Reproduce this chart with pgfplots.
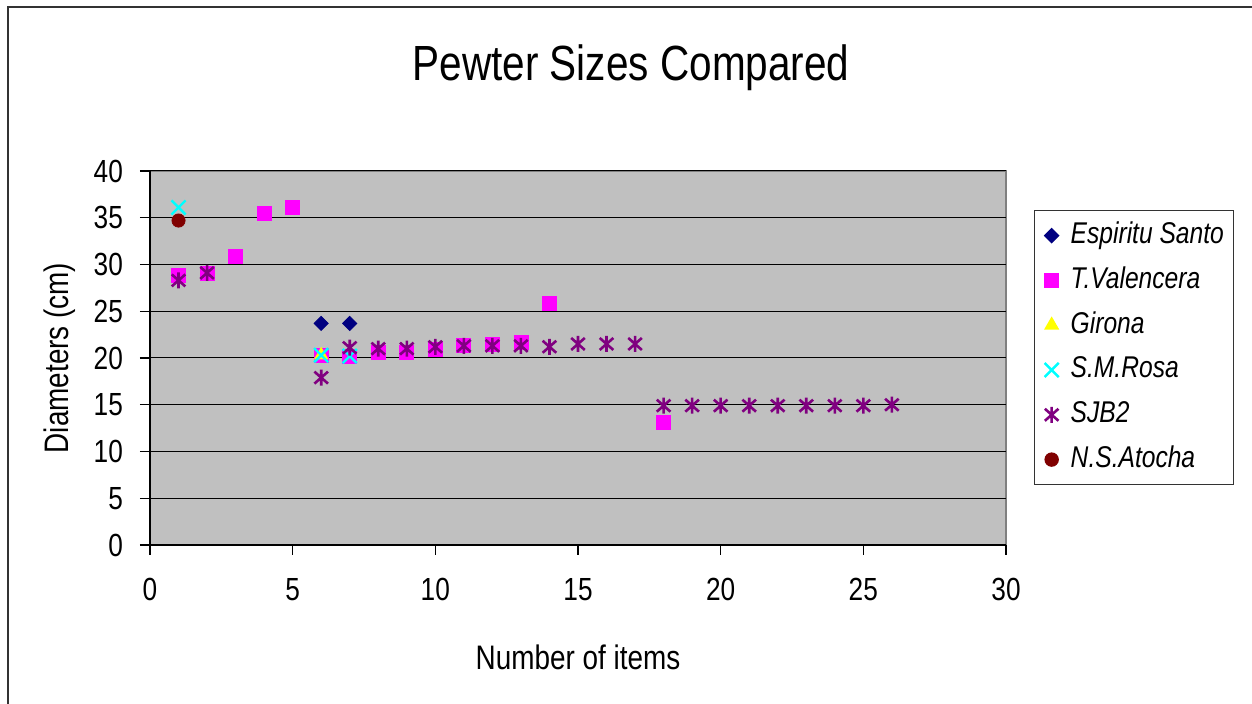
\documentclass[border=0pt]{standalone}
\usepackage{fontspec}
\setmainfont{Liberation Sans}[FakeStretch=0.82]
\usepackage{pgfplots}
\pgfplotsset{compat=1.18}
\definecolor{plotgray}{HTML}{C0C0C0}
\definecolor{framegray}{HTML}{808080}
\definecolor{esnavy}{HTML}{000080}
\definecolor{tvmag}{HTML}{FF00FF}
\definecolor{gyellow}{HTML}{FFFF00}
\definecolor{smcyan}{HTML}{00FFFF}
\definecolor{sjpurple}{HTML}{800080}
\definecolor{nsred}{HTML}{800000}
% Excel style star: one upright bar and two diagonals
\pgfdeclareplotmark{xlstar}{%
  \pgfpathmoveto{\pgfqpoint{0pt}{\pgfplotmarksize}}%
  \pgfpathlineto{\pgfqpoint{0pt}{-\pgfplotmarksize}}%
  \pgfpathmoveto{\pgfqpoint{-0.85\pgfplotmarksize}{0.75\pgfplotmarksize}}%
  \pgfpathlineto{\pgfqpoint{0.85\pgfplotmarksize}{-0.75\pgfplotmarksize}}%
  \pgfpathmoveto{\pgfqpoint{-0.85\pgfplotmarksize}{-0.75\pgfplotmarksize}}%
  \pgfpathlineto{\pgfqpoint{0.85\pgfplotmarksize}{0.75\pgfplotmarksize}}%
  \pgfusepathqstroke}

\begin{document}
\begin{tikzpicture}
  % page = 1252x704 px at 0.5pt per px, axis origin at (150,545) px
  \path[use as bounding box] (-75pt,-79.5pt) rectangle (551pt,272.5pt);
  \draw[line width=0.8pt, black!80] (-71pt,-90pt) -- (-71pt,269pt) -- (560pt,269pt);
  \begin{axis}[
    scale only axis,
    width=428pt, height=187pt,
    xmin=0, xmax=30, ymin=0, ymax=40,
    xtick={0,5,...,30}, ytick={0,5,...,40},
    axis x line*=bottom, axis y line*=left,
    axis line style={black, line width=0.8pt},
    axis background/.style={fill=plotgray, draw=framegray, line width=0.8pt},
    ymajorgrids, grid style={black, line width=0.5pt},
    tick align=outside, major tick length=5pt,
    tick style={black, line width=0.6pt},
    minor tick num=0,
    /pgf/number format/assume math mode=true,
    tick label style={font=\fontsize{16}{19}\selectfont},
    x tick label style={yshift=-8pt},
    y tick label style={xshift=-5pt},
    title={Pewter Sizes Compared},
    title style={at={(axis description cs:0.562,1.243)}, anchor=center,
      font=\fontsize{24.7}{29}\selectfont},
    xlabel={Number of items},
    ylabel={Diameters (cm)},
    label style={font=\fontsize{17}{20}\selectfont},
    x label style={at={(axis description cs:0.5,-0.2995)}, anchor=center},
    y label style={at={(axis description cs:-0.105,0.5)}, anchor=center},
    legend style={at={(axis description cs:1.0327,0.8957)}, anchor=north west,
      font=\itshape\fontsize{15}{18}\selectfont, draw=black!80, line width=0.6pt,
      row sep=8.4pt, column sep=6pt, inner ysep=5.5pt, inner xsep=5pt,
      nodes={inner sep=0pt, text height=11pt, text depth=3pt}},
    legend cell align=left,
    legend image code/.code={\draw plot coordinates {(0.12cm,0cm)};},
  ]
  \addplot[only marks, mark=square*, mark size=2.5pt, mark options={rotate=45, fill=esnavy, draw=esnavy}]
    coordinates {(6,23.7) (7,23.7)};
  \addlegendentry{Espiritu Santo}
  \addplot[only marks, mark=square*, mark size=3.5pt, mark options={fill=tvmag, draw=tvmag}]
    coordinates {(1,28.8) (2,29.1) (3,30.9) (4,35.5) (5,36.1) (6,20.3) (7,20.2)
      (8,20.6) (9,20.6) (10,20.9) (11,21.3) (12,21.5) (13,21.7) (14,25.8) (18,13.1)};
  \addlegendentry{T.Valencera}
  \addplot[only marks, mark=triangle*, mark size=3.8pt, mark options={fill=gyellow, draw=gyellow}]
    coordinates {(6,20.3)};
  \addlegendentry{Girona}
  \addplot[only marks, mark=x, mark size=5pt, mark options={draw=smcyan, line width=1.2pt}]
    coordinates {(1,36.1) (6,20.3) (7,20.2)};
  \addlegendentry{S.M.Rosa}
  \addplot[only marks, mark=xlstar, mark size=4pt, mark options={draw=sjpurple, line width=1.3pt}]
    coordinates {(1,28.3) (2,29.1) (6,17.9) (7,21.1) (8,21.0) (9,21.0) (10,21.2)
      (11,21.3) (12,21.3) (13,21.3) (14,21.2) (15,21.5) (16,21.5) (17,21.5)
      (18,14.9) (19,14.9) (20,14.9) (21,14.9) (22,14.9) (23,14.9) (24,14.9)
      (25,14.9) (26,15.0)};
  \addlegendentry{SJB2}
  \addplot[only marks, mark=*, mark size=3.3pt, mark options={fill=nsred, draw=nsred}]
    coordinates {(1,34.7)};
  \addlegendentry{N.S.Atocha}
  \end{axis}
\end{tikzpicture}
\end{document}
